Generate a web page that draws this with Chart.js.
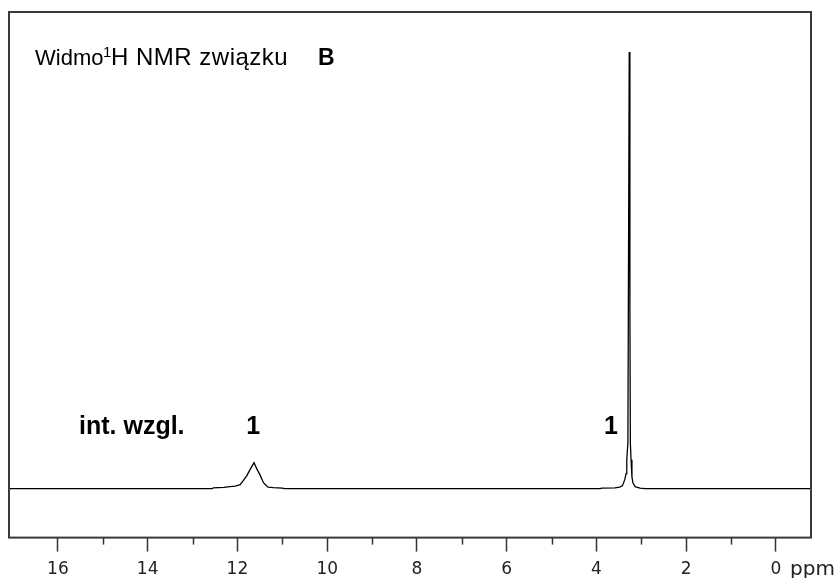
<!DOCTYPE html>
<html>
<head>
<meta charset="utf-8">
<script src="https://cdn.jsdelivr.net/npm/chart.js@4"></script>
<style>
body{margin:0;background:white}
</style>
</head>
<body>
<canvas id="widmo" width="840" height="578"></canvas>
<script>

const ppm = [17.2, 12.56, 12.54, 12.3, 12.17, 12.05, 11.94, 11.87, 11.79, 11.72, 11.63, 11.56, 11.5, 11.42, 11.32, 11.2, 11.0, 10.95,
3.92, 3.88, 3.59, 3.48, 3.42, 3.37, 3.34, 3.325, 3.3, 3.29, 3.27, 3.255, 3.245, 3.23, 3.21, 3.19, 3.14, 3.03, 2.92, -1]

const intensywnosc = [0, 0, 0.8, 1.2, 2, 2.5, 4, 8, 13, 19, 26, 19, 14, 6, 1.5, 1, 0.5, 0,
0, 0.6, 0.8, 1.5, 3, 9, 15, 29, 46, 176, 437, 176, 46, 29, 12, 6, 2, 0.5, 0, 0]

const podzialka = [16, 14, 12, 10, 8, 6, 4, 2, 0]
const podzialkaMala = [15, 13, 11, 9, 7, 5, 3, 1]

const calki = [
{ppm: 11.65, tekst: "1"},
{ppm: 3.68, tekst: "1"}
]

const punkty = ppm.map((p, i) => ({x: p, y: intensywnosc[i]}))

const ramka = {
id: "ramka",
afterDraw(chart){
const c = chart.ctx
const a = chart.chartArea
const sx = chart.scales.x

c.save()
c.strokeStyle = "#3a3a3a"
c.lineWidth = 2
c.strokeRect(a.left, a.top, a.right - a.left, a.bottom - a.top)

c.lineWidth = 1.5
c.strokeStyle = "#333"
podzialkaMala.forEach(v => {
let x = Math.round(sx.getPixelForValue(v)) + 0.5
c.beginPath()
c.moveTo(x, a.bottom)
c.lineTo(x, a.bottom + 7)
c.stroke()
})

c.fillStyle = "#222"
c.font = "20px 'DejaVu Sans'"
c.textBaseline = "alphabetic"
c.fillText("ppm", 790, 575)

// tytul
c.fillStyle = "black"
c.font = "22px 'Liberation Sans'"
c.fillText("Widmo", 35, 65)
c.font = "15px 'Liberation Sans'"
c.fillText("1", 103, 57)
c.font = "24px 'Liberation Sans'"
c.letterSpacing = "0.5px"
c.fillText("H NMR związku", 111, 65)
c.letterSpacing = "0px"
c.font = "bold 23px 'Liberation Sans'"
c.fillText("B", 318, 65)

c.font = "bold 25px 'Liberation Sans'"
c.fillText("int. wzgl.", 79, 434)
c.textAlign = "center"
calki.forEach(k => {
c.fillText(k.tekst, sx.getPixelForValue(k.ppm), 434)
})
c.restore()
}
}

new Chart(document.getElementById("widmo"), {
type: "line",
data: {
datasets: [{
data: punkty,
borderColor: "black",
borderWidth: 1.3,
pointRadius: 0,
tension: 0,
fill: false
}]
},
options: {
responsive: false,
animation: false,
layout: {padding: {left: 9, right: 29, top: 12, bottom: -10}},
plugins: {legend: {display: false}, tooltip: {enabled: false}},
scales: {
x: {
type: "linear",
reverse: true,
min: -0.78,
max: 17.09,
afterBuildTicks: s => { s.ticks = podzialka.map(v => ({value: v})) },
border: {display: false},
grid: {drawOnChartArea: false, tickLength: 14, tickColor: "#333", tickWidth: 1.5},
ticks: {color: "#222", padding: 8, font: {family: "DejaVu Sans", size: 17}, maxRotation: 0, autoSkip: false}
},
y: {
display: false,
min: -49,
max: 477
}
}
},
plugins: [ramka]
})

</script>
</body>
</html>
